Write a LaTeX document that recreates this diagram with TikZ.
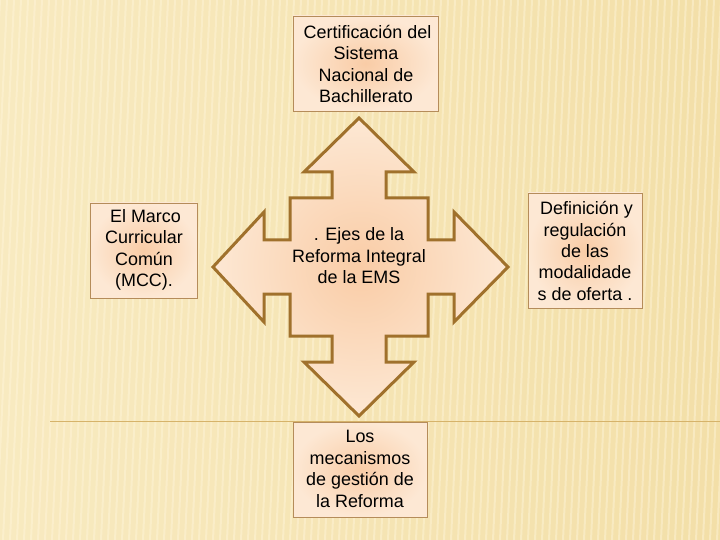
\documentclass[tikz,border=0pt]{standalone}
\usepackage{fontspec}
\setmainfont{Liberation Sans}
\usetikzlibrary{calc}
\definecolor{bgA}{HTML}{F8EAC0}
\definecolor{bgB}{HTML}{F3DFA8}
\definecolor{stripe}{HTML}{FFF6DC}
\definecolor{rule}{HTML}{D6B36A}
\definecolor{arrowline}{HTML}{A0712C}
\definecolor{peachin}{HTML}{F9CCA6}
\definecolor{peachout}{HTML}{FDE8D4}
\definecolor{boxline}{HTML}{B58C5A}
\tikzset{
  txt/.style={font=\fontsize{18}{21.5}\selectfont, align=center, text=black},
  infobox/.style={draw=boxline, line width=0.8bp, inner color=peachin, outer color=peachout}
}
\begin{document}
\begin{tikzpicture}[x=1bp,y=-1bp]
\useasboundingbox (0,0) rectangle (720,540);
% background
\shade[left color=bgA, right color=bgB] (0,0) rectangle (720,540);
\foreach \i in {0,7,...,760} {
  \draw[stripe, opacity=0.45, line width=2bp] (\i,0) -- (\i-25,540);
}
\draw[rule, line width=0.9bp] (50,421) -- (720,421);
% cross arrow
\coordinate (c) at (359,267);
\def\T{149}\def\H{95}\def\W{55}\def\s{27}\def\Q{69}
\shade[draw=arrowline, line width=3bp, line join=miter, inner color=peachin, outer color=peachout]
  ($(c)+(0,-\T)$) -- ($(c)+(\W,-\H)$) -- ($(c)+(\s,-\H)$) -- ($(c)+(\s,-\Q)$) -- ($(c)+(\Q,-\Q)$)
  -- ($(c)+(\Q,-\s)$) -- ($(c)+(\H,-\s)$) -- ($(c)+(\H,-\W)$) -- ($(c)+(\T,0)$)
  -- ($(c)+(\H,\W)$) -- ($(c)+(\H,\s)$) -- ($(c)+(\Q,\s)$) -- ($(c)+(\Q,\Q)$)
  -- ($(c)+(\s,\Q)$) -- ($(c)+(\s,\H)$) -- ($(c)+(\W,\H)$) -- ($(c)+(0,\T)$)
  -- ($(c)+(-\W,\H)$) -- ($(c)+(-\s,\H)$) -- ($(c)+(-\s,\Q)$) -- ($(c)+(-\Q,\Q)$)
  -- ($(c)+(-\Q,\s)$) -- ($(c)+(-\H,\s)$) -- ($(c)+(-\H,\W)$) -- ($(c)+(-\T+3,0)$)
  -- ($(c)+(-\H,-\W)$) -- ($(c)+(-\H,-\s)$) -- ($(c)+(-\Q,-\s)$) -- ($(c)+(-\Q,-\Q)$)
  -- ($(c)+(-\s,-\Q)$) -- ($(c)+(-\s,-\H)$) -- ($(c)+(-\W,-\H)$) -- cycle;
\node[txt] (center) at (359,256) {. Ejes de la\\Reforma Integral\\de la EMS};
% boxes
\shade[infobox] (293,16) rectangle (438,111);
\node[txt] (top) at (366,64) {\,Certificación del\\Sistema\\Nacional de\\Bachillerato};
\shade[infobox] (90,203) rectangle (197,298);
\node[txt] (left) at (144,250) {\,El Marco\\Curricular\\Común\\(MCC).};
\shade[infobox] (528,193) rectangle (642,308);
\node[txt] (right) at (585,251) {\,Definición y\\regulación\\de las\\modalidade\\s de oferta .};
\shade[infobox] (293,422) rectangle (427,517);
\node[txt] (bottom) at (360,469) {Los\\mecanismos\\de gestión de\\la Reforma};
\end{tikzpicture}
\end{document}
